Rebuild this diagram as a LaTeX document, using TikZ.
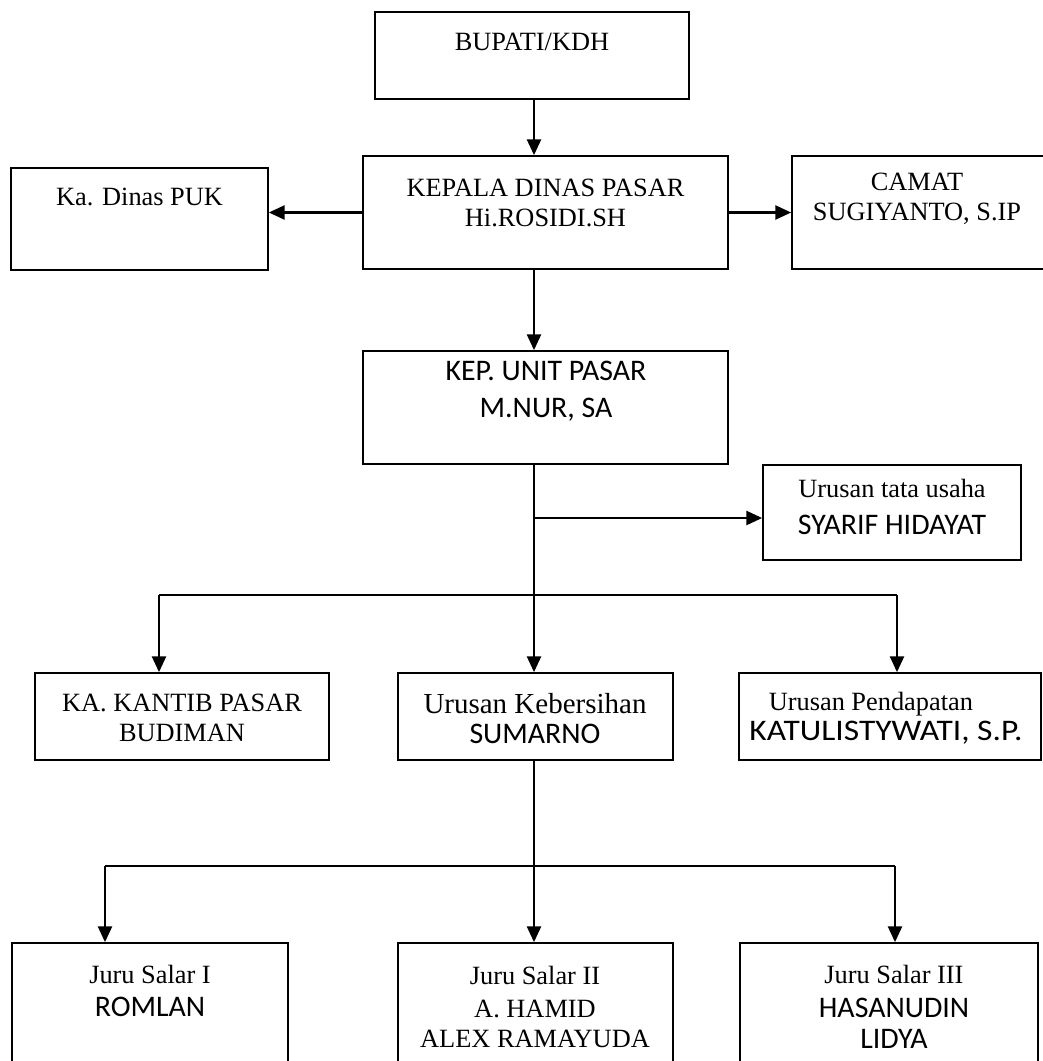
\documentclass[tikz,border=0pt]{standalone}
\usepackage{fontspec}
\setmainfont{Liberation Serif}
\newfontfamily\cfont{Carlito}
\newcommand{\calib}{\cfont\fontsize{17}{20}\selectfont}
\usetikzlibrary{arrows.meta}
\tikzset{>={Triangle[length=9pt,width=8pt]}}
\tikzset{box/.style={draw, line width=1pt, inner sep=0pt}}
\tikzset{txt/.style={align=center, inner sep=0pt, font=\fontsize{15}{17}\selectfont}}
\tikzset{link/.style={->, line width=1.3pt}}
\tikzset{bar/.style={line width=1pt}}

\begin{document}
\begin{tikzpicture}[x=0.02cm, y=-0.02cm]
	\useasboundingbox (0,0) rectangle (1043,1061);
	% boxes
	\node[box, minimum width=6.28cm, minimum height=1.74cm] (bupati) at (532,55.5) {};
	\node[box, minimum width=7.30cm, minimum height=2.26cm] (kepala) at (545.5,212.5) {};
	\node[box, minimum width=5.14cm, minimum height=2.04cm] (puk) at (139.5,219) {};
	\node[box, minimum width=5.20cm, minimum height=2.26cm] (camat) at (922,212.5) {};
	\node[box, minimum width=7.30cm, minimum height=2.26cm] (unit) at (545.5,407.5) {};
	\node[box, minimum width=5.16cm, minimum height=1.90cm] (tata) at (892,512.5) {};
	\node[box, minimum width=5.88cm, minimum height=1.74cm] (kantib) at (182,716.5) {};
	\node[box, minimum width=5.50cm, minimum height=1.74cm] (bersih) at (535.5,716.5) {};
	\node[box, minimum width=6.04cm, minimum height=1.74cm] (dapat) at (890,716.5) {};
	\node[box, minimum width=5.52cm, minimum height=2.64cm] (juru1) at (150,1009) {};
	\node[box, minimum width=5.50cm, minimum height=2.64cm] (juru2) at (535.5,1009) {};
	\node[box, minimum width=5.96cm, minimum height=2.64cm] (juru3) at (889,1009) {};
	% texts
	\node[txt] (bupatitxt) at (532,42) {BUPATI/KDH};
	\node[txt] (kepalatxt) at (545.5,203) {KEPALA DINAS PASAR\\Hi.ROSIDI.SH};
	\node[txt] (puktxt) at (139.5,197) {Ka. Dinas PUK};
	\node[txt] (camattxt) at (917,198.5) {CAMAT\\SUGIYANTO, S.IP};
	\node[txt] (unittxt) at (546,391.5) {{\calib KEP. UNIT PASAR}\\[4pt]{\calib M.NUR, SA}};
	\node[txt] (tatatxt) at (892,507) {Urusan tata usaha\\[4pt]{\calib SYARIF HIDAYAT}};
	\node[txt] (kantibtxt) at (182,718) {KA. KANTIB PASAR\\BUDIMAN};
	\node[txt] (bersihtxt) at (535,718.5) {{\fontsize{16.5}{17}\selectfont Urusan Kebersihan}\\{\calib SUMARNO}};
	\node[txt, align=left] (dapattxt) at (886,718.5) {\hspace*{11pt}Urusan Pendapatan\\{\calib\scalebox{1.12}[1]{KATULISTYWATI, S.P.}}};
	\node[txt] (juru1txt) at (150,991) {Juru Salar I\\[2pt]{\calib ROMLAN}};
	\node[txt] (juru2txt) at (535,1007) {Juru Salar II\\[2pt]A. HAMID\\ALEX RAMAYUDA};
	\node[txt] (juru3txt) at (894,1007) {Juru Salar III\\[2pt]{\calib HASANUDIN}\\[1pt]{\calib LIDYA}};
	% joints
	\coordinate (spine) at (534,0);
	\coordinate (tatajoin) at (534,518);
	\coordinate (midL) at (159,595);
	\coordinate (midR) at (897,595);
	\coordinate (lowL) at (105,866);
	\coordinate (lowR) at (895,866);
	% connectors
	\draw[link] (bupati.south -| spine) -- (kepala.north -| spine);
	\draw[link] (kepala.west) -- (kepala.west -| puk.east);
	\draw[link] (kepala.east) -- (kepala.east -| camat.west);
	\draw[link] (kepala.south -| spine) -- (unit.north -| spine);
	\draw[link] (unit.south -| spine) -- (bersih.north -| spine);
	\draw[link] (tatajoin) -- (tatajoin -| tata.west);
	\draw[bar] (midL) -- (midR);
	\draw[link] (midL) -- (midL |- kantib.north);
	\draw[link] (midR) -- (midR |- dapat.north);
	\draw[link] (bersih.south -| spine) -- (juru2.north -| spine);
	\draw[bar] (lowL) -- (lowR);
	\draw[link] (lowL) -- (lowL |- juru1.north);
	\draw[link] (lowR) -- (lowR |- juru3.north);
\end{tikzpicture}
\end{document}
